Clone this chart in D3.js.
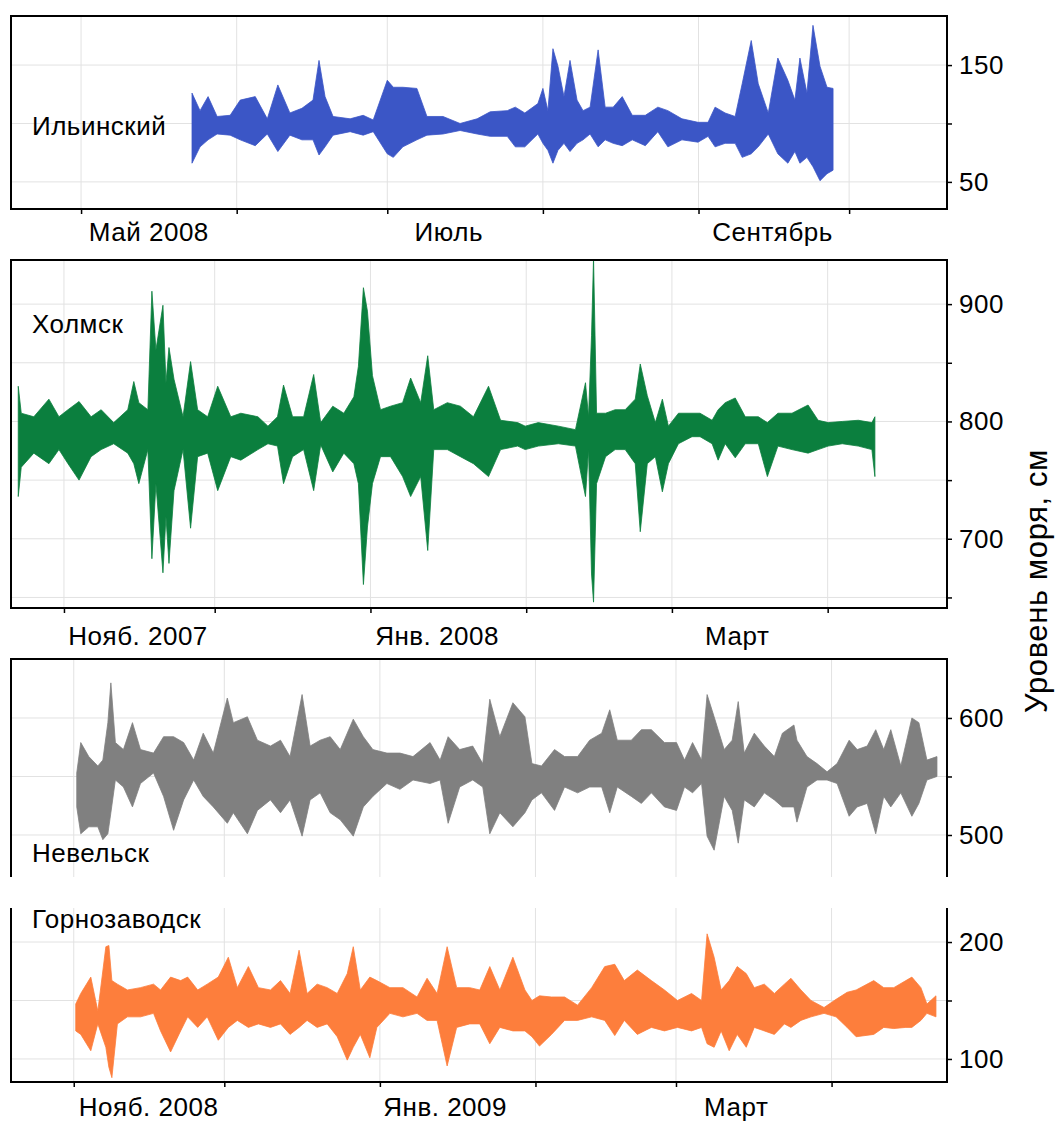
<!DOCTYPE html>
<html><head><meta charset="utf-8">
<script src="https://cdn.jsdelivr.net/npm/d3@7"></script>
<style>
body{margin:0;background:#fff}
svg{display:block}
text{font-family:"Liberation Sans",Arial,sans-serif;fill:#000}
</style>
</head><body>
<svg id="chart" width="1055" height="1122"></svg>
<script>
// ---------- DATA (envelopes) ----------
// Ильинский: days since 2008-05-01, upper and lower envelope (cm)
const ilDays = [22.1,23.7,25.3,27.1,29.7,31.7,34.7,37.1,39.2,41.6,44.0,46.2,47.4,48.6,50.2,53.6,56.2,58.2,61.0,62.2,64.1,66.9,68.9,72.1,75.5,78.9,81.5,84.9,86.5,88.4,91.0,92.0,93.0,94.0,95.0,96.2,97.4,98.8,100.0,101.4,103.0,104.4,106.0,107.8,109.8,112.4,114.9,116.9,119.7,122.9,124.9,126.3,128.3,130.3,131.7,133.5,134.9,136.9,138.8,140.8,142.2,143.2,144.6,145.8,147.2,148.6,149.8];
const ilHi = [126,111,123,106,107,120,123,104,133,109,113,120,154,123,106,104,107,103,137,131,131,130,106,106,100,104,110,111,114,109,117,130,111,164,149,123,154,120,111,114,163,114,114,123,107,107,114,111,104,101,101,114,109,106,134,171,134,109,156,137,120,156,126,184,149,131,130];
const ilLo = [66,80,86,91,90,86,81,91,76,90,86,86,73,80,90,93,90,93,74,71,80,86,90,91,94,91,89,89,80,80,91,83,77,66,77,83,76,83,86,91,80,86,83,81,86,81,93,80,86,84,89,80,83,83,71,74,80,91,74,66,76,66,71,63,51,57,60];

// Холмск: days since 2007-11-01
const khDays = [-9.1,-8.5,-6.0,-3.0,-1.0,0.8,3.0,5.4,7.4,9.9,12.7,13.9,14.9,16.7,17.5,18.3,19.7,20.3,20.9,21.9,23.7,25.2,26.6,28.6,30.6,33.2,35.2,38.6,40.6,42.5,43.7,45.5,47.7,49.7,51.1,53.5,55.7,57.7,58.6,59.6,60.4,61.4,63.0,65.0,67.4,69.0,71.0,72.4,73.6,76.3,78.9,81.5,84.5,86.9,90.3,91.8,94.4,98.4,101.8,103.8,104.4,105.0,105.4,106.0,107.8,109.7,111.7,113.7,114.7,116.1,117.7,119.1,120.3,122.3,125.0,126.6,129.0,130.2,131.6,133.6,135.6,138.2,140.0,142.1,144.9,148.1,150.1,152.1,154.9,158.1,160.8,161.4];
const khHi = [830,807,804,819,804,810,817,804,810,799,810,834,816,810,911,861,899,833,863,836,804,851,810,804,830,804,807,804,796,804,831,804,804,840,799,813,807,821,847,914,894,839,810,813,816,837,816,856,810,816,813,804,830,801,799,796,799,796,793,833,804,873,939,807,807,810,810,819,849,822,799,819,796,807,807,807,801,810,816,820,804,804,799,807,807,814,801,799,800,801,799,804];
const khLo = [736,761,773,764,776,764,750,770,776,781,773,764,747,776,683,747,671,719,679,741,776,709,770,773,741,770,767,776,781,779,747,770,776,741,780,757,773,764,747,661,710,747,770,770,753,736,753,690,776,776,770,764,753,776,779,776,779,781,779,736,776,670,646,747,770,776,776,764,706,764,770,740,764,781,787,787,781,767,781,769,781,781,753,779,776,773,776,779,781,779,776,753];

// Невельск: days since 2008-11-01
const nvDays = [0.6,1.4,3.0,4.8,5.8,6.8,7.4,8.3,9.9,11.7,13.3,15.9,17.9,19.9,21.9,23.9,25.8,27.8,30.6,31.8,34.6,36.6,39.2,41.2,43.1,45.5,47.1,49.1,51.1,53.1,55.7,57.7,59.6,62.4,65.0,67.6,71.0,73.0,74.6,76.9,79.5,81.5,82.9,84.9,87.5,89.9,91.3,93.2,95.8,97.8,100.4,102.8,105.2,106.8,108.3,111.1,113.1,115.1,117.7,120.1,121.7,123.3,125.1,126.2,127.6,129.6,131.2,132.4,133.6,135.6,137.6,139.6,141.2,143.5,144.1,146.1,148.1,150.1,152.1,154.5,156.1,158.1,159.8,161.4,162.8,164.8,167.0,168.4,170.0,172.0];
const nvHi = [553,579,567,559,564,596,630,579,573,596,573,570,584,584,579,564,587,570,617,596,601,581,576,581,567,620,576,581,584,573,599,584,573,570,570,567,579,564,584,573,576,561,616,584,613,601,561,559,573,567,567,581,587,607,581,581,590,590,579,579,564,579,564,620,601,573,581,614,570,587,576,567,587,594,581,567,561,554,561,581,573,576,590,573,590,559,600,596,564,567];
const nvLo = [524,501,507,507,496,501,519,547,541,524,544,553,533,504,530,547,533,524,510,519,501,521,530,519,530,499,530,536,519,513,499,524,533,544,539,547,544,547,510,541,547,541,501,519,507,519,530,536,521,541,536,541,541,519,541,533,527,536,524,521,541,536,544,499,487,533,521,493,530,524,536,530,524,524,511,541,547,547,544,516,524,527,501,533,524,536,516,527,547,550];

// Горнозаводск: days since 2008-11-01
const gzDays = [0.4,1.4,3.4,4.8,6.4,7.0,7.6,8.7,10.7,13.3,15.9,17.3,19.3,21.3,22.7,24.7,26.6,28.8,30.8,32.6,34.8,36.8,39.2,41.2,43.1,44.9,46.5,48.5,50.5,52.5,54.5,55.7,57.1,59.0,60.4,63.0,65.6,68.4,70.4,72.4,74.4,76.3,78.9,80.9,82.9,84.9,87.5,89.9,91.3,92.8,95.2,97.8,100.4,103.2,105.8,107.8,109.7,112.3,115.1,117.7,120.3,123.1,125.1,126.2,127.6,129.0,130.6,132.2,134.0,135.6,137.6,139.6,141.6,142.9,144.9,146.9,149.5,151.9,154.1,155.9,159.4,161.4,163.4,165.8,167.0,168.8,170.0,171.8];
const gzHi = [147,156,170,141,196,197,167,164,159,161,164,159,170,167,170,159,164,170,187,161,179,161,159,167,156,193,156,164,161,156,173,196,159,170,167,161,161,153,169,156,196,161,161,159,179,159,187,159,150,154,153,153,146,161,179,181,167,176,167,159,150,156,150,207,187,159,167,179,173,161,164,156,164,169,159,150,144,151,157,159,167,161,161,167,170,161,147,154];
const gzLo = [124,121,107,130,110,93,84,130,136,136,139,124,106,124,136,127,136,116,127,133,127,130,127,130,121,127,133,127,130,119,99,110,121,101,127,139,136,139,133,133,94,127,130,130,113,127,124,124,119,111,121,133,133,136,133,120,133,121,127,124,127,124,127,113,110,124,107,121,110,127,124,121,130,127,133,136,139,136,127,119,121,127,126,127,127,133,139,136];

// Axis ticks and labels
const ilYTicks = [50,100,150], ilYLabels = [50,150];
const khYTicks = [650,700,750,800,850,900], khYLabels = [700,800,900];
const nvYTicks = [500,550,600], nvYLabels = [500,600];
const gzYTicks = [100,150,200], gzYLabels = [100,200];
const ilMonthLabels = [["2008-05-14T12:00Z","Май 2008"],["2008-07-13T06:00Z","Июль"],["2008-09-15T18:00Z","Сентябрь"]];
const khMonthLabels = [["2007-11-15T18:00Z","Нояб. 2007"],["2008-01-14T06:00Z","Янв. 2008"],["2008-03-14T00:00Z","Март"]];
const gzMonthLabels = [["2008-11-15T22:00Z","Нояб. 2008"],["2009-01-14T00:00Z","Янв. 2009"],["2009-03-13T00:00Z","Март"]];
const axisTitle = "Уровень моря, см";

// ---------- LAYOUT ----------
const svg = d3.select("#chart");
const L = 11, R = 947;
const DAY = 864e5;
const FS = 26, LS = "0.5px";

const panels = [
  {name:"Ильинский", nameY:135, base:Date.UTC(2008,4,1), days:ilDays, hi:ilHi, lo:ilLo, color:"#3b56c6",
   xd:[Date.UTC(2008,3,17,1), Date.UTC(2008,9,20,12)], top:16, bottom:209, yd:[26.8,192],
   yTicks:ilYTicks, yLabels:ilYLabels, months:[Date.UTC(2008,4,1), Date.UTC(2008,9,2)], monthLabels:ilMonthLabels,
   frameTop:true, frameBottom:true, labelY:241},
  {name:"Холмск", nameY:333, base:Date.UTC(2007,10,1), days:khDays, hi:khHi, lo:khLo, color:"#0b7f3e",
   xd:[Date.UTC(2007,9,21,11), Date.UTC(2008,3,24,18)], top:260, bottom:608, yd:[641,937.6],
   yTicks:khYTicks, yLabels:khYLabels, months:[Date.UTC(2007,10,1), Date.UTC(2008,3,2)], monthLabels:khMonthLabels,
   frameTop:true, frameBottom:true, labelY:645},
  {name:"Невельск", nameY:862, base:Date.UTC(2008,10,1), days:nvDays, hi:nvHi, lo:nvLo, color:"#808080",
   xd:[Date.UTC(2008,9,19,12), Date.UTC(2009,3,24,0)], top:659, bottom:877, yd:[464.1,650.4],
   yTicks:nvYTicks, yLabels:nvYLabels, months:[Date.UTC(2008,10,1), Date.UTC(2009,3,2)], monthLabels:null,
   frameTop:true, frameBottom:false, labelY:null},
  {name:"Горнозаводск", nameY:928, base:Date.UTC(2008,10,1), days:gzDays, hi:gzHi, lo:gzLo, color:"#fd7e3c",
   xd:[Date.UTC(2008,9,19,12), Date.UTC(2009,3,24,0)], top:908, bottom:1082, yd:[80.3,229.1],
   yTicks:gzYTicks, yLabels:gzYLabels, months:[Date.UTC(2008,10,1), Date.UTC(2009,3,2)], monthLabels:gzMonthLabels,
   frameTop:false, frameBottom:true, labelY:1116}
];

panels.forEach((p, i) => {
  const x = d3.scaleUtc().domain(p.xd).range([L, R]);
  const y = d3.scaleLinear().domain(p.yd).range([p.bottom, p.top]);
  const g = svg.append("g");
  const monthTicks = d3.utcMonth.range(p.months[0], p.months[1]);

  // grid
  g.selectAll(".gx").data(monthTicks).join("line")
    .attr("x1", d => x(d)).attr("x2", d => x(d))
    .attr("y1", p.top).attr("y2", p.bottom)
    .attr("stroke", "#e2e2e2").attr("stroke-width", 1);
  g.selectAll(".gy").data(p.yTicks).join("line")
    .attr("x1", L).attr("x2", R)
    .attr("y1", d => y(d)).attr("y2", d => y(d))
    .attr("stroke", "#e2e2e2").attr("stroke-width", 1);

  // data
  const clipId = "clip" + i;
  svg.append("clipPath").attr("id", clipId).append("rect")
    .attr("x", L).attr("y", p.top).attr("width", R - L).attr("height", p.bottom - p.top);
  const rows = p.days.map((d, k) => ({t: new Date(p.base + d * DAY), hi: p.hi[k], lo: p.lo[k]}));
  const area = d3.area().x(d => x(d.t)).y0(d => y(d.lo)).y1(d => y(d.hi));
  g.append("path").datum(rows).attr("d", area)
    .attr("fill", p.color).attr("stroke", p.color).attr("stroke-width", 0.8)
    .attr("clip-path", `url(#${clipId})`);

  // frame
  const fr = g.append("g").attr("stroke", "#000").attr("stroke-width", 2).attr("fill", "none");
  fr.append("line").attr("x1", L).attr("x2", L).attr("y1", p.top - (p.frameTop ? 1 : 0)).attr("y2", p.bottom + (p.frameBottom ? 1 : 0));
  if (p.frameTop) fr.append("line").attr("x1", L - 1).attr("x2", R + 1).attr("y1", p.top).attr("y2", p.top);
  if (p.frameBottom) fr.append("line").attr("x1", L - 1).attr("x2", R + 1).attr("y1", p.bottom).attr("y2", p.bottom);

  // right y axis
  const yAxis = d3.axisRight(y).tickValues(p.yTicks).tickSize(5).tickSizeOuter(0)
    .tickFormat(d => p.yLabels.includes(d) ? d : "");
  const ya = g.append("g").attr("transform", `translate(${R},0)`).call(yAxis);
  ya.select(".domain").attr("stroke", "#000").attr("stroke-width", 2)
    .attr("d", `M0,${p.top - (p.frameTop ? 1 : 0)}V${p.bottom + (p.frameBottom ? 1 : 0)}`);
  ya.selectAll(".tick line").attr("stroke", "#000").attr("stroke-width", 1.5);
  ya.selectAll(".tick text").attr("x", 12).attr("font-size", FS).style("letter-spacing", LS)
    .style("font-family", '"Liberation Sans",Arial,sans-serif').attr("fill", "#000");

  // bottom x axis
  if (p.frameBottom) {
    const xAxis = d3.axisBottom(x).tickValues(monthTicks).tickSize(5).tickSizeOuter(0).tickFormat("");
    const xa = g.append("g").attr("transform", `translate(0,${p.bottom})`).call(xAxis);
    xa.select(".domain").remove();
    xa.selectAll(".tick line").attr("stroke", "#000").attr("stroke-width", 1.5);
  }
  if (p.monthLabels) {
    g.selectAll(".ml").data(p.monthLabels).join("text")
      .attr("x", d => x(d3.isoParse(d[0]))).attr("y", p.labelY)
      .attr("text-anchor", "middle").attr("font-size", FS).style("letter-spacing", LS).text(d => d[1]);
  }

  // station name
  g.append("text").attr("x", 32).attr("y", p.nameY).attr("font-size", FS).style("letter-spacing", LS).text(p.name);
});

// y axis title
svg.append("text").attr("transform", "translate(1047,581) rotate(-90)")
  .attr("text-anchor", "middle").attr("font-size", 31).style("letter-spacing", "0.6px").text(axisTitle);
</script>
</body></html>
